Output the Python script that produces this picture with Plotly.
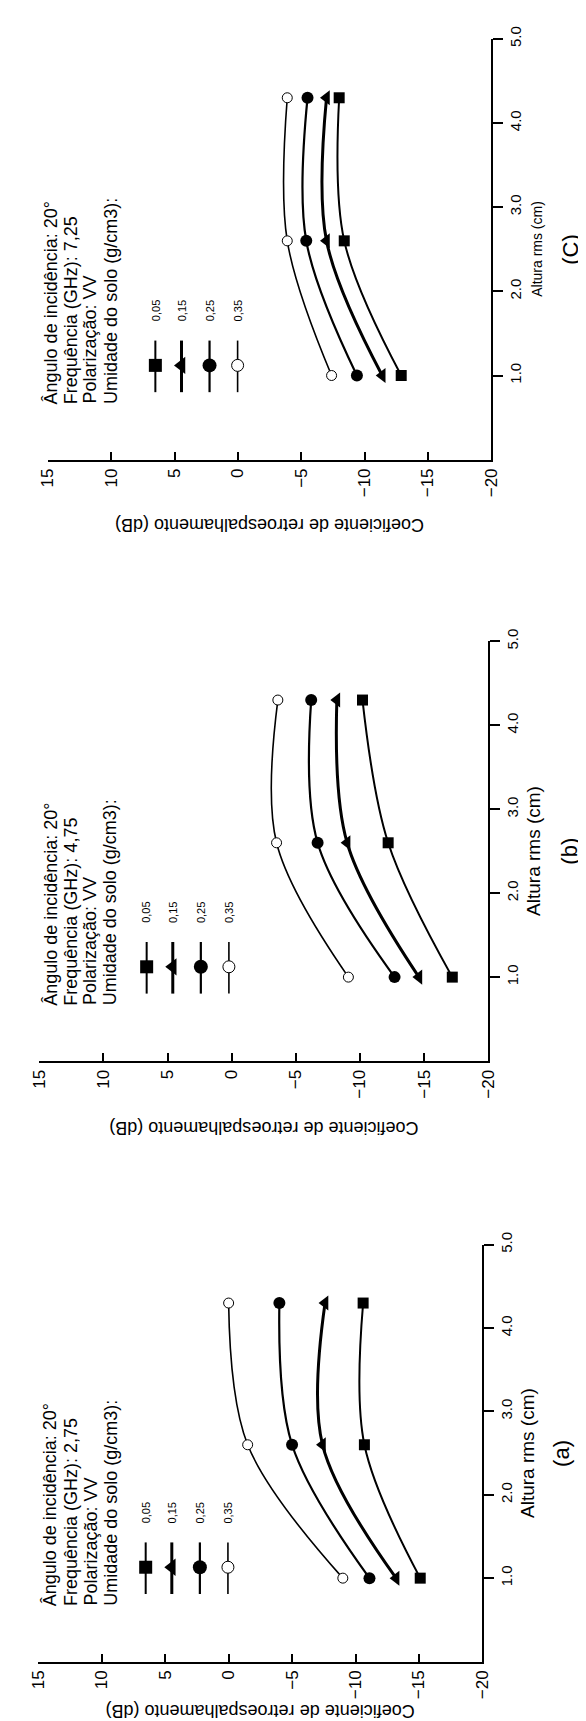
import plotly.graph_objects as go

W, H = 586, 1721

# ---------------- data ----------------
altura = [1.0, 2.6, 4.3]
umidade_labels = ["0,05", "0,15", "0,25", "0,35"]

# panel (a) 2,75 GHz
coef_a_005 = [-15.1, -10.7, -10.6]
coef_a_015 = [-13.2, -7.4, -7.6]
coef_a_025 = [-11.1, -5.0, -4.0]
coef_a_035 = [-9.0, -1.5, 0.0]
# panel (b) 4,75 GHz
coef_b_005 = [-17.2, -12.2, -10.2]
coef_b_015 = [-14.6, -9.0, -8.2]
coef_b_025 = [-12.7, -6.7, -6.2]
coef_b_035 = [-9.1, -3.5, -3.6]
# panel (c) 7,25 GHz
coef_c_005 = [-12.9, -8.4, -8.0]
coef_c_015 = [-11.4, -7.0, -7.0]
coef_c_025 = [-9.4, -5.4, -5.5]
coef_c_035 = [-7.4, -3.9, -3.9]

freq_labels = ["2,75", "4,75", "7,25"]
panel_labels = ["(a)", "(b)", "(C)"]
coef_ticks = [15, 10, 5, 0, -5, -10, -15, -20]
altura_ticks = [1.0, 2.0, 3.0, 4.0, 5.0]
altura_ticktext = ["1.0", "2.0", "3.0", "4.0", "5.0"]

series = [
    [coef_a_005, coef_a_015, coef_a_025, coef_a_035],
    [coef_b_005, coef_b_015, coef_b_025, coef_b_035],
    [coef_c_005, coef_c_015, coef_c_025, coef_c_035],
]

# ---------------- styles / layout ----------------
FONT = "Arial, Liberation Sans, sans-serif"
styles = [
    dict(symbol="square", size=11, color="black", lw=2.0, ms_line=0),
    dict(symbol="triangle-left", size=13, color="black", lw=3.0, ms_line=0),
    dict(symbol="circle", size=12, color="black", lw=2.2, ms_line=0),
    dict(symbol="circle", size=10, color="white", lw=1.6, ms_line=1),
]
# panel boxes in pixels: left, right, top, bottom
boxes = [(22, 481, 1233, 1653), (23, 487, 625, 1048), (32, 490, 18, 442)]
label_x = [562, 571, 572]
title_dx = [46, 46, 48]
title_sizes = [19, 19, 14]
coef_title_dy = [50, 68, 66]
legend_dx = [111, 138, 167, 196]
legend_line_x = [35, 56, 76, 97]

def px(x):
    return x / W

def py(y):
    return 1 - y / H

fig = go.Figure()
annotations = []
layout = {}

for i, (L, R, T, B) in enumerate(boxes):
    sfx = "" if i == 0 else str(i + 1)
    xa, ya = "x" + sfx, "y" + sfx
    for j, vals in enumerate(series[i]):
        st = styles[j]
        fig.add_trace(go.Scatter(
            x=vals, y=altura, xaxis=xa, yaxis=ya, mode="lines+markers",
            line=dict(color="black", width=st["lw"], shape="spline"),
            marker=dict(symbol=st["symbol"], size=st["size"], color=st["color"],
                        line=dict(color="black", width=st["ms_line"])),
            showlegend=False, hoverinfo="skip", cliponaxis=False))
    layout["xaxis" + sfx] = dict(
        domain=[px(L), px(R)], range=[15, -20], anchor=ya,
        tickmode="array", tickvals=coef_ticks, ticks="inside", ticklen=8,
        tickwidth=1.5, tickcolor="black", tickangle=-90,
        showline=True, linewidth=2, linecolor="black", showgrid=False,
        zeroline=False, tickfont=dict(family=FONT, size=17, color="black"))
    layout["yaxis" + sfx] = dict(
        domain=[py(B), py(T)], range=[0, 5], anchor=xa, side="right",
        tickmode="array", tickvals=altura_ticks, ticktext=altura_ticktext,
        ticks="outside", ticklen=10, tickwidth=1.5, tickcolor="black",
        tickangle=-90, showline=True, linewidth=2, linecolor="black",
        showgrid=False, zeroline=False,
        tickfont=dict(family=FONT, size=15, color="black"))

    # axis titles
    annotations.append(dict(
        x=px((L + R) / 2), y=py(B + coef_title_dy[i]), xref="paper", yref="paper",
        text="Coeficiente de retroespalhamento (dB)", textangle=180,
        showarrow=False, xanchor="center", yanchor="middle",
        font=dict(family=FONT, size=18, color="black")))
    annotations.append(dict(
        x=px(R + title_dx[i]), y=py((T + B) / 2), xref="paper", yref="paper",
        text="Altura rms (cm)", textangle=-90, showarrow=False,
        xanchor="center", yanchor="middle",
        font=dict(family=FONT, size=title_sizes[i], color="black")))
    annotations.append(dict(
        x=px(label_x[i]), y=py((T + B) / 2), xref="paper", yref="paper",
        text=panel_labels[i], textangle=-90, showarrow=False,
        xanchor="center", yanchor="middle",
        font=dict(family=FONT, size=22, color="black")))
    # legend text lines
    legend_lines = ["Ângulo de incidência: 20°",
                    "Frequência (GHz): " + freq_labels[i],
                    "Polarização: VV",
                    "Umidade do solo (g/cm3):"]
    for k, line in enumerate(legend_lines):
        annotations.append(dict(
            x=px(legend_line_x[k]), y=py(B - 54), xref="paper", yref="paper",
            text=line, textangle=-90, showarrow=False,
            xanchor="center", yanchor="bottom",
            font=dict(family=FONT, size=18, color="black")))
    # legend keys
    for j, dx in enumerate(legend_dx):
        st = styles[j]
        kx = L + dx
        fig.add_trace(go.Scatter(
            x=[kx, kx], y=[B - 120, B - 68], xaxis="x4", yaxis="y4",
            mode="lines", line=dict(color="black", width=st["lw"]),
            showlegend=False, hoverinfo="skip"))
        fig.add_trace(go.Scatter(
            x=[kx], y=[B - 95], xaxis="x4", yaxis="y4", mode="markers",
            marker=dict(symbol=st["symbol"], size=st["size"] + 2, color=st["color"],
                        line=dict(color="black", width=st["ms_line"])),
            showlegend=False, hoverinfo="skip"))
        annotations.append(dict(
            x=px(kx), y=py(B - 150), xref="paper", yref="paper",
            text=umidade_labels[j], textangle=-90, showarrow=False,
            xanchor="center", yanchor="middle",
            font=dict(family=FONT, size=11, color="black")))

layout["xaxis4"] = dict(domain=[0, 1], range=[0, W], anchor="y4", visible=False,
                        fixedrange=True)
layout["yaxis4"] = dict(domain=[0, 1], range=[H, 0], anchor="x4", visible=False,
                        fixedrange=True)

fig.update_layout(
    width=W, height=H, margin=dict(l=0, r=0, t=0, b=0),
    paper_bgcolor="white", plot_bgcolor="rgba(0,0,0,0)",
    showlegend=False, annotations=annotations, **layout)

fig.write_html("out.html")
